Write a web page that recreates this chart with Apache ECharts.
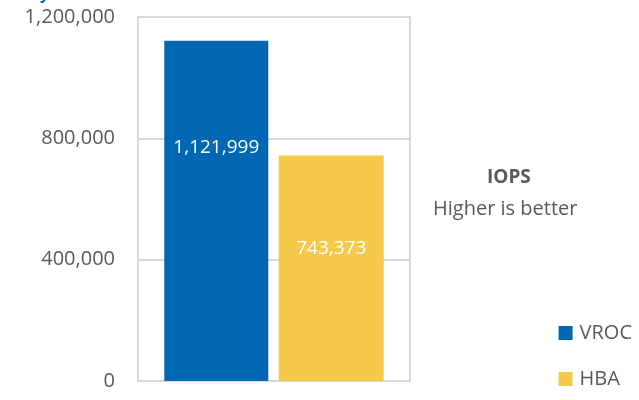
<!DOCTYPE html>
<html><head><meta charset="utf-8">
<script src="https://cdn.jsdelivr.net/npm/echarts@6/dist/echarts.min.js"></script>
<style>html,body{margin:0;padding:0;background:#fff}#c{width:639px;height:400px}</style>
</head><body><div id="c"></div>
<script>
var categories = ['IOPS'];
var seriesNames = ['VROC', 'HBA'];
var vrocValues = [1121999];
var hbaValues = [743373];
var yTicks = [0, 400000, 800000, 1200000];

var chart = echarts.init(document.getElementById('c'));
var fontFam = '"Open Sans", Lato, sans-serif';
function fmt(v){ return v.toLocaleString('en-US'); }
chart.setOption({
  animation: false,
  grid: {left: 138, right: 229, top: 17, bottom: 19, show: true, borderColor: '#d9d9d9', borderWidth: 2},
  legend: {
    orient: 'vertical', right: 2, top: 318, itemWidth: 14, itemHeight: 14, itemGap: 26,
    icon: 'rect',
    textStyle: {fontSize: 20, color: '#595959', fontFamily: fontFam, padding: [0,0,0,2]},
    data: seriesNames
  },
  xAxis: {type: 'category', data: categories, axisLine: {show: false}, axisTick: {show: false}, axisLabel: {show: false}},
  yAxis: {
    type: 'value', min: yTicks[0], max: yTicks[yTicks.length-1], interval: yTicks[1]-yTicks[0],
    axisLine: {show: false}, axisTick: {show: false},
    splitLine: {lineStyle: {color: '#d9d9d9', width: 2}},
    axisLabel: {fontSize: 20, color: '#595959', fontFamily: fontFam, margin: 23, formatter: function(v){return fmt(v);}}
  },
  series: [
    {name: seriesNames[0], type: 'bar', data: vrocValues, barWidth: 104, barGap: '10%',
     itemStyle: {color: '#0067B4'},
     label: {show: true, position: ['50%', 107], align: 'center', verticalAlign: 'middle', color: '#fff', fontSize: 19, fontFamily: fontFam, formatter: function(p){return fmt(p.value);}}},
    {name: seriesNames[1], type: 'bar', data: hbaValues, barWidth: 105,
     itemStyle: {color: '#F5C94B'},
     label: {show: true, position: ['50%', 93], align: 'center', verticalAlign: 'middle', color: '#fff', fontSize: 19, fontFamily: fontFam, formatter: function(p){return fmt(p.value);}}}
  ],
  graphic: [
    {type: 'text', left: 487, top: 168, style: {text: 'IOPS', font: 'bold 19px ' + fontFam, fill: '#595959'}},
    {type: 'text', left: 433, top: 199, style: {text: 'Higher is better', font: '20px ' + fontFam, fill: '#595959'}},
    {type: 'text', left: 40, top: -14, style: {text: 'y', font: 'bold 16px ' + fontFam, fill: '#0067B4'}}
  ]
});
</script></body></html>
